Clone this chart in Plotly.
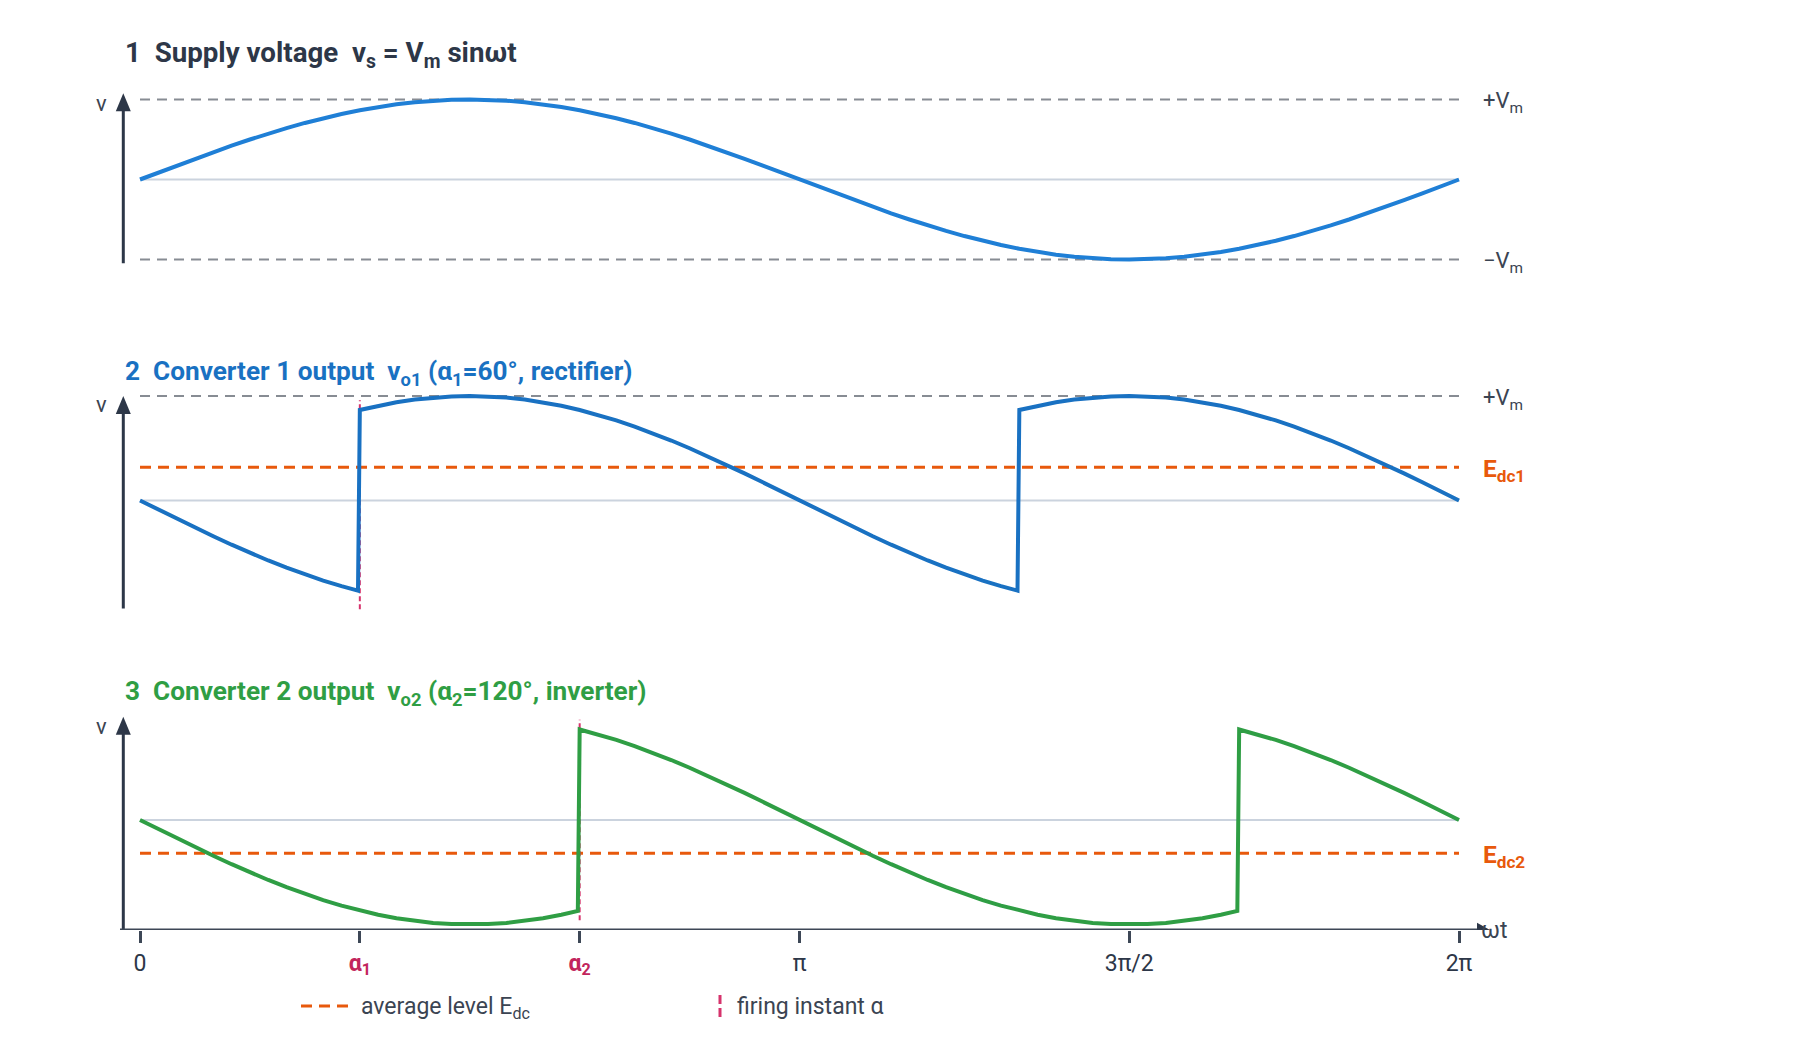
import plotly.graph_objects as go

# ---------------- data (angles in degrees, voltages in units of Vm) ----------------
deg = [0, 5, 10, 15, 20, 25, 30, 35, 40, 45, 50, 55, 60, 65, 70, 75, 80, 85, 90,
       95, 100, 105, 110, 115, 120, 125, 130, 135, 140, 145, 150, 155, 160, 165, 170, 175, 180,
       185, 190, 195, 200, 205, 210, 215, 220, 225, 230, 235, 240, 245, 250, 255, 260, 265, 270,
       275, 280, 285, 290, 295, 300, 305, 310, 315, 320, 325, 330, 335, 340, 345, 350, 355, 360]
supply = [0, .087, .174, .259, .342, .423, .5, .574, .643, .707, .766, .819, .866, .906, .94, .966, .985, .996, 1,
          .996, .985, .966, .94, .906, .866, .819, .766, .707, .643, .574, .5, .423, .342, .259, .174, .087, 0,
          -.087, -.174, -.259, -.342, -.423, -.5, -.574, -.643, -.707, -.766, -.819, -.866, -.906, -.94, -.966, -.985, -.996, -1,
          -.996, -.985, -.966, -.94, -.906, -.866, -.819, -.766, -.707, -.643, -.574, -.5, -.423, -.342, -.259, -.174, -.087, 0]

conv1_deg = [0, 5, 10, 15, 20, 25, 30, 35, 40, 45, 50, 55, 59.5,
             60, 65, 70, 75, 80, 85, 90, 95, 100, 105, 110, 115, 120, 125, 130, 135, 140, 145, 150,
             155, 160, 165, 170, 175, 180, 185, 190, 195, 200, 205, 210, 215, 220, 225, 230, 235, 239.5,
             240, 245, 250, 255, 260, 265, 270, 275, 280, 285, 290, 295, 300, 305, 310, 315, 320, 325,
             330, 335, 340, 345, 350, 355, 360]
conv1 = [0, -.087, -.174, -.259, -.342, -.423, -.5, -.574, -.643, -.707, -.766, -.819, -.862,
         .866, .906, .94, .966, .985, .996, 1, .996, .985, .966, .94, .906, .866, .819, .766, .707, .643, .574, .5,
         .423, .342, .259, .174, .087, 0, -.087, -.174, -.259, -.342, -.423, -.5, -.574, -.643, -.707, -.766, -.819, -.862,
         .866, .906, .94, .966, .985, .996, 1, .996, .985, .966, .94, .906, .866, .819, .766, .707, .643, .574,
         .5, .423, .342, .259, .174, .087, 0]

conv2_deg = [0, 5, 10, 15, 20, 25, 30, 35, 40, 45, 50, 55, 60, 65, 70, 75, 80, 85, 90, 95, 100, 105, 110, 115, 119.5,
             120, 125, 130, 135, 140, 145, 150, 155, 160, 165, 170, 175, 180, 185, 190, 195, 200, 205, 210,
             215, 220, 225, 230, 235, 240, 245, 250, 255, 260, 265, 270, 275, 280, 285, 290, 295, 299.5,
             300, 305, 310, 315, 320, 325, 330, 335, 340, 345, 350, 355, 360]
conv2 = [0, -.087, -.174, -.259, -.342, -.423, -.5, -.574, -.643, -.707, -.766, -.819, -.866, -.906, -.94, -.966,
         -.985, -.996, -1, -.996, -.985, -.966, -.94, -.906, -.870,
         .866, .819, .766, .707, .643, .574, .5, .423, .342, .259, .174, .087, 0, -.087, -.174, -.259, -.342, -.423, -.5,
         -.574, -.643, -.707, -.766, -.819, -.866, -.906, -.94, -.966, -.985, -.996, -1, -.996, -.985, -.966, -.94, -.906, -.870,
         .866, .819, .766, .707, .643, .574, .5, .423, .342, .259, .174, .087, 0]

vm = 1.0
alpha1 = 60
alpha2 = 120
edc1 = 0.318
edc2 = -0.318
period = [0, 360]
tick_vals = [0, 60, 120, 180, 270, 360]
tick_text = ["0",
             "<span style='color:#c2255c'><b>α<sub>1</sub></b></span>",
             "<span style='color:#c2255c'><b>α<sub>2</sub></b></span>",
             "π", "3π/2", "2π"]

# ---------------- styles ----------------
FONT = "Roboto, 'Liberation Sans', Arial, sans-serif"
DARK = "#2d3748"
TXT = "#3b4452"
BLUE1 = "#1f7fd6"
BLUE2 = "#1971c2"
GREEN = "#2f9e44"
ORANGE = "#e8590c"
CRIMSON = "#d6336c"
GRAY = "#878c93"
LIGHT = "#cbd3de"

fig = go.Figure()

def hline(y, axis, color, width, dash):
    fig.add_trace(go.Scatter(x=period, y=[y, y], mode="lines", yaxis=axis, hoverinfo="skip",
                             line=dict(color=color, width=width, dash=dash), showlegend=False))

# panel 1
hline(0, "y", LIGHT, 2, "solid")
hline(vm, "y", GRAY, 2, "10px,7px")
hline(-vm, "y", GRAY, 2, "10px,7px")
fig.add_trace(go.Scatter(x=deg, y=supply, mode="lines", yaxis="y", line=dict(color=BLUE1, width=4),
                         showlegend=False))
# panel 2
hline(0, "y2", LIGHT, 2, "solid")
hline(vm, "y2", GRAY, 2, "10px,7px")
hline(edc1, "y2", ORANGE, 3, "11px,7px")
fig.add_trace(go.Scatter(x=[alpha1, alpha1], y=[-1.04, 0.96], mode="lines", yaxis="y2",
                         line=dict(color=CRIMSON, width=2, dash="5px,3px"), showlegend=False))
fig.add_trace(go.Scatter(x=conv1_deg, y=conv1, mode="lines", yaxis="y2", line=dict(color=BLUE2, width=4),
                         showlegend=False))
# panel 3
hline(0, "y3", LIGHT, 2, "solid")
hline(edc2, "y3", ORANGE, 3, "11px,7px")
fig.add_trace(go.Scatter(x=[alpha2, alpha2], y=[-0.96, 0.96], mode="lines", yaxis="y3",
                         line=dict(color=CRIMSON, width=2, dash="5px,3px"), showlegend=False))
fig.add_trace(go.Scatter(x=conv2_deg, y=conv2, mode="lines", yaxis="y3", line=dict(color=GREEN, width=4),
                         showlegend=False))

# ---------------- axes geometry ----------------
W, H = 1800, 1040
X0PX, X1PX = 140.0, 1459.0          # pixel positions of 0 and 2π
kx = (X1PX - X0PX) / 360.0
xr = [-X0PX / kx, (W - X0PX) / kx]

def dom(center_px, unit_px, lo, hi):
    top = center_px - hi * unit_px
    bot = center_px - lo * unit_px
    return [1 - bot / H, 1 - top / H]

P1 = (179.5, 80.0)
P2 = (500.5, 104.5)
P3 = (820.0, 104.5)
y1r = [-1.3, 1.3]
y2r = [-1.1, 1.1]
y3r = [-(930 - P3[0]) / P3[1], 1.1]

hidden = dict(showgrid=False, zeroline=False, showticklabels=False, showline=False, ticks="", fixedrange=True)
fig.update_layout(
    width=W, height=H, margin=dict(l=0, r=0, t=0, b=0),
    paper_bgcolor="white", plot_bgcolor="white", template="none", showlegend=False,
    font=dict(family=FONT, color=DARK),
    xaxis=dict(range=xr, domain=[0, 1], anchor="y3", showgrid=False, zeroline=False, showline=False,
               tickmode="array", tickvals=tick_vals, ticktext=tick_text, ticks="outside", ticklen=12,
               tickwidth=2.5, tickcolor="#3d4756", tickfont=dict(size=23, color=DARK, family=FONT),
               ticklabelstandoff=0, fixedrange=True),
    yaxis=dict(range=y1r, domain=dom(P1[0], P1[1], *y1r), anchor="x", **hidden),
    yaxis2=dict(range=y2r, domain=dom(P2[0], P2[1], *y2r), anchor="x", **hidden),
    yaxis3=dict(range=y3r, domain=dom(P3[0], P3[1], *y3r), anchor="x", **hidden),
)

# ---------------- axis arrows (decorations) ----------------
ax_x = (123.3 - X0PX) / kx
hw = 7.5 / kx
shapes = []
def v_arrow(yref, lo, tip, unit_px):
    base = tip - 18.0 / unit_px
    shapes.append(dict(type="line", xref="x", yref=yref, x0=ax_x, x1=ax_x, y0=lo, y1=base + 0.02,
                       line=dict(color=DARK, width=3)))
    shapes.append(dict(type="path", xref="x", yref=yref, fillcolor=DARK, line=dict(width=0),
                       path=f"M {ax_x-hw},{base} L {ax_x+hw},{base} L {ax_x},{tip} Z"))
v_arrow("y", -1.048, 1.078, P1[1])
v_arrow("y2", -1.033, 1.0, P2[1])
v_arrow("y3", y3r[0], 0.988, P3[1])
# x axis line + arrow
xl0 = (120 - X0PX) / kx
xb = (1477 - X0PX) / kx
xt = (1490 - X0PX) / kx
hh = 7.3 / P3[1]
shapes.append(dict(type="line", xref="x", yref="y3", x0=xl0, x1=xb + 0.5, y0=y3r[0], y1=y3r[0],
                   line=dict(color="#3d4756", width=3)))
shapes.append(dict(type="path", xref="x", yref="y3", fillcolor=DARK, line=dict(width=0),
                   path=f"M {xb},{y3r[0]-hh} L {xb},{y3r[0]+hh} L {xt},{y3r[0]} Z"))
# legend samples
shapes.append(dict(type="line", xref="paper", yref="paper", x0=301 / W, x1=348 / W, y0=1 - 1006 / H,
                   y1=1 - 1006 / H, line=dict(color=ORANGE, width=3, dash="11px,7px")))
shapes.append(dict(type="line", xref="paper", yref="paper", x0=720 / W, x1=720 / W, y0=1 - 995 / H,
                   y1=1 - 1017 / H, line=dict(color=CRIMSON, width=3, dash="9px,4px")))
fig.update_layout(shapes=shapes)

# ---------------- text ----------------
ann = []
def title(txt, ypx, color, size):
    ann.append(dict(text=txt, xref="paper", yref="paper", x=123 / W, y=1 - ypx / H, xanchor="left",
                    yanchor="middle", showarrow=False, font=dict(size=size, color=color, family=FONT)))
title("<b>1  Supply voltage  v<sub>s</sub> = V<sub>m</sub> sinωt</b>", 54.0, DARK, 27.7)
title("<b>2  Converter 1 output  v<sub>o1</sub> (α<sub>1</sub>=60°, rectifier)</b>", 373.0, BLUE2, 26.2)
title("<b>3  Converter 2 output  v<sub>o2</sub> (α<sub>2</sub>=120°, inverter)</b>", 693.3, GREEN, 26.2)

lx = (1481 - X0PX) / kx
def rlabel(txt, y, yref, color, size, bold=False):
    t = f"<b>{txt}</b>" if bold else txt
    ann.append(dict(text=t, xref="x", yref=yref, x=lx, y=y, xanchor="left", yanchor="middle",
                    showarrow=False, yshift=-3, font=dict(size=size, color=color, family=FONT)))
rlabel("+V<sub>m</sub>", vm, "y", TXT, 22)
rlabel("−V<sub>m</sub>", -vm, "y", TXT, 22)
rlabel("+V<sub>m</sub>", vm, "y2", TXT, 22)
rlabel("E<sub>dc1</sub>", edc1, "y2", ORANGE, 24.5, True)
rlabel("E<sub>dc2</sub>", edc2, "y3", ORANGE, 24.5, True)

vx = (101.7 - X0PX) / kx
for yref, yy in [("y", (P1[0] - 103.3) / P1[1]), ("y2", (P2[0] - 404) / P2[1]), ("y3", (P3[0] - 726) / P3[1])]:
    ann.append(dict(text="v", xref="x", yref=yref, x=vx, y=yy, xanchor="center", yanchor="middle",
                    showarrow=False, font=dict(size=22, color=TXT, family=FONT)))

ann.append(dict(text="ωt", xref="x", yref="y3", x=(1479 - X0PX) / kx, y=y3r[0], xanchor="left",
                yanchor="middle", showarrow=False, font=dict(size=23, color=TXT, family=FONT)))

ann.append(dict(text="average level E<sub>dc</sub>", xref="paper", yref="paper", x=359 / W, y=1 - 1008 / H,
                xanchor="left", yanchor="middle", showarrow=False, font=dict(size=23, color=TXT, family=FONT)))
ann.append(dict(text="firing instant α", xref="paper", yref="paper", x=735 / W, y=1 - 1006.5 / H,
                xanchor="left", yanchor="middle", showarrow=False, font=dict(size=23, color=TXT, family=FONT)))
fig.update_layout(annotations=ann)

fig.write_html("out.html")
